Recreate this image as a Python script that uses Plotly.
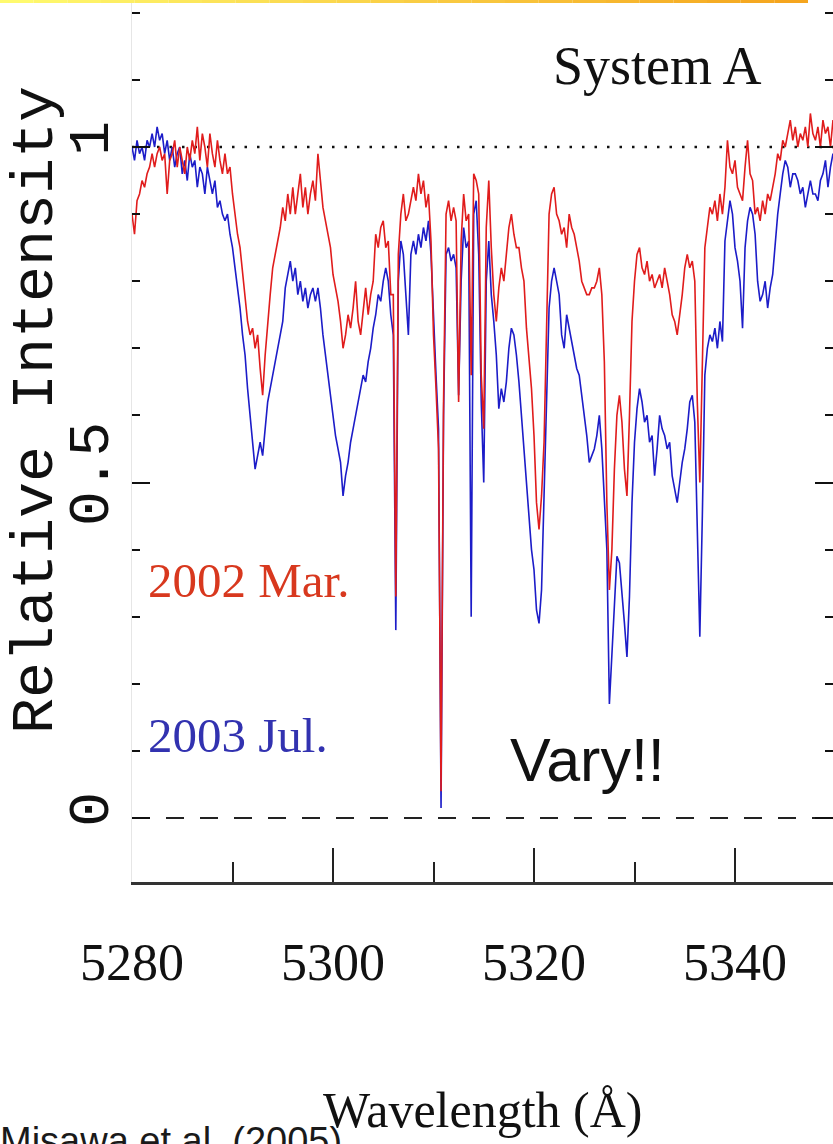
import plotly.graph_objects as go

# ---------------- data ----------------
wavelength = [round(5280 + 0.25 * i, 2) for i in range(281)]

flux_2003_jul = [
    1.00, 0.98, 1.01, 0.99, 1.00, 0.98, 1.01, 1.00,
    1.02, 1.00, 1.03, 1.01, 1.02, 0.99, 1.01, 0.98,
    1.00, 0.97, 0.99, 1.00, 0.96, 0.98, 0.95, 0.99,
    0.97, 0.98, 0.94, 0.97, 0.96, 0.93, 0.97, 0.95,
    0.93, 0.95, 0.91, 0.92, 0.90, 0.89, 0.90, 0.87,
    0.85, 0.82, 0.79, 0.76, 0.72, 0.69, 0.64, 0.60,
    0.55, 0.52, 0.54, 0.56, 0.54, 0.58, 0.62, 0.64,
    0.66, 0.68, 0.70, 0.72, 0.74, 0.79, 0.81, 0.83,
    0.80, 0.82, 0.78, 0.80, 0.77, 0.79, 0.76, 0.78,
    0.79, 0.77, 0.79, 0.76, 0.72, 0.69, 0.66, 0.63,
    0.60, 0.57, 0.55, 0.53, 0.48, 0.51, 0.53, 0.56,
    0.58, 0.60, 0.62, 0.64, 0.66, 0.65, 0.68, 0.70,
    0.73, 0.75, 0.78, 0.77, 0.80, 0.82, 0.80, 0.75,
    0.72, 0.28, 0.80, 0.86, 0.84, 0.78, 0.72, 0.84,
    0.86, 0.84, 0.87, 0.85, 0.88, 0.86, 0.89, 0.84,
    0.74, 0.66, 0.58, 0.015, 0.60, 0.84, 0.85, 0.83,
    0.84, 0.82, 0.63, 0.80, 0.88, 0.85, 0.86, 0.30,
    0.90, 0.92, 0.84, 0.62, 0.50, 0.80, 0.86, 0.78,
    0.74, 0.69, 0.61, 0.64, 0.62, 0.65, 0.70, 0.73,
    0.72, 0.69, 0.65, 0.60, 0.54, 0.49, 0.45, 0.40,
    0.37, 0.31, 0.29, 0.34, 0.48, 0.64, 0.76, 0.80,
    0.82, 0.80, 0.78, 0.72, 0.70, 0.75, 0.73, 0.71,
    0.69, 0.67, 0.66, 0.63, 0.60, 0.57, 0.53, 0.54,
    0.55, 0.57, 0.60, 0.55, 0.48, 0.40, 0.17, 0.24,
    0.33, 0.39, 0.38, 0.34, 0.29, 0.24, 0.33, 0.47,
    0.56, 0.61, 0.64, 0.62, 0.59, 0.60, 0.56, 0.57,
    0.51, 0.55, 0.60, 0.58, 0.57, 0.55, 0.56, 0.51,
    0.49, 0.47, 0.50, 0.53, 0.55, 0.58, 0.62, 0.63,
    0.59, 0.44, 0.27, 0.45, 0.66, 0.70, 0.72, 0.71,
    0.73, 0.70, 0.74, 0.71, 0.86, 0.89, 0.92, 0.90,
    0.85, 0.83, 0.80, 0.73, 0.85, 0.89, 0.91, 0.90,
    0.87, 0.80, 0.77, 0.78, 0.80, 0.76, 0.79, 0.81,
    0.86, 0.90, 0.93, 0.96, 0.98, 0.97, 0.94, 0.96,
    0.96, 0.95, 0.93, 0.94, 0.91, 0.93, 0.95, 0.93,
    0.93, 0.92, 0.95, 0.96, 0.98, 0.94, 0.97, 0.99,
    0.97,
]

flux_2002_mar = [
    0.90, 0.87, 0.92, 0.93, 0.95, 0.94, 0.96, 0.97,
    0.99, 0.97, 0.99, 1.00, 0.98, 0.99, 0.93, 0.98,
    0.99, 1.01, 0.97, 1.00, 0.98, 0.96, 1.00, 0.98,
    1.01, 0.99, 1.03, 0.98, 1.02, 1.00, 0.97, 1.02,
    0.99, 0.97, 1.01, 0.98, 0.96, 0.99, 0.96, 0.97,
    0.93, 0.90, 0.87, 0.85, 0.81, 0.77, 0.74, 0.72,
    0.73, 0.70, 0.72, 0.67, 0.63, 0.69, 0.74, 0.78,
    0.82, 0.84, 0.86, 0.88, 0.91, 0.89, 0.93, 0.90,
    0.94, 0.90, 0.93, 0.96, 0.91, 0.94, 0.90, 0.93,
    0.95, 0.92, 0.99, 0.95, 0.91, 0.89, 0.87, 0.85,
    0.81, 0.79, 0.77, 0.74, 0.70, 0.72, 0.75, 0.73,
    0.76, 0.80, 0.74, 0.72, 0.76, 0.79, 0.75, 0.78,
    0.80, 0.87, 0.85, 0.88, 0.89, 0.85, 0.86, 0.78,
    0.78, 0.33, 0.84, 0.90, 0.93, 0.89, 0.90, 0.92,
    0.94, 0.92, 0.96, 0.93, 0.95, 0.91, 0.93, 0.86,
    0.72, 0.64, 0.55, 0.04, 0.62, 0.90, 0.92, 0.89,
    0.91, 0.89, 0.62, 0.86, 0.93, 0.89, 0.90, 0.66,
    0.96, 0.95, 0.93, 0.66, 0.58, 0.88, 0.95, 0.85,
    0.78, 0.74, 0.79, 0.82, 0.80, 0.84, 0.88, 0.90,
    0.87, 0.85, 0.85, 0.82, 0.80, 0.73, 0.68, 0.64,
    0.57, 0.47, 0.43, 0.48, 0.56, 0.74, 0.90, 0.93,
    0.94, 0.90, 0.89, 0.87, 0.88, 0.85, 0.90, 0.88,
    0.87, 0.85, 0.83, 0.80, 0.79, 0.78, 0.78, 0.79,
    0.79, 0.80, 0.82, 0.78, 0.68, 0.47, 0.34, 0.40,
    0.52, 0.60, 0.63, 0.59, 0.52, 0.48, 0.60, 0.74,
    0.80, 0.84, 0.85, 0.82, 0.81, 0.83, 0.80, 0.81,
    0.79, 0.80, 0.81, 0.79, 0.82, 0.80, 0.78, 0.75,
    0.74, 0.72, 0.75, 0.78, 0.82, 0.84, 0.82, 0.83,
    0.80, 0.62, 0.50, 0.70, 0.85, 0.88, 0.91, 0.90,
    0.92, 0.89, 0.93, 0.90, 0.94, 1.01, 0.97, 0.96,
    0.98, 0.94, 0.93, 0.92, 0.97, 1.01, 0.96, 0.95,
    0.90, 0.91, 0.89, 0.92, 0.90, 0.93, 0.92, 0.94,
    0.96, 0.99, 0.98, 1.01, 1.00, 1.02, 1.04, 1.01,
    1.03, 1.00, 1.02, 1.01, 1.03, 1.00, 1.05, 1.02,
    1.01, 1.03, 1.00, 1.04, 1.02, 1.03, 1.00, 1.04,
    1.02,
]

x_tick_values = [5280, 5300, 5320, 5340]
x_tick_labels = ["5280", "5300", "5320", "5340"]
x_minor_values = [5290, 5310, 5330]
y_tick_values = [0, 0.5, 1]
y_tick_labels = ["0", "0.5", "1"]

# ---------------- layout geometry ----------------
W, H = 833, 1144
ML, MR, MT, MB = 132, 0, 0, 262
PW, PH = W - ML - MR, H - MT - MB


def px(xp):
    return (xp - ML) / PW


def py(yp):
    return (MT + PH - yp) / PH


RED = "#e01c1c"
BLUE = "#1c1cc8"

fig = go.Figure()
fig.add_trace(go.Scatter(x=wavelength, y=flux_2003_jul, mode="lines",
                         name="2003 Jul.", line=dict(color=BLUE, width=1.6)))
fig.add_trace(go.Scatter(x=wavelength, y=flux_2002_mar, mode="lines",
                         name="2002 Mar.", line=dict(color=RED, width=1.6)))

shapes = [
    dict(type="line", xref="paper", yref="y", x0=0, x1=1, y0=1, y1=1,
         line=dict(color="#111", width=2.5, dash="2.5px,10px"), layer="below"),
    dict(type="line", xref="paper", yref="y", x0=0, x1=1, y0=0, y1=0,
         line=dict(color="#222", width=2, dash="18px,16px"), layer="below"),
]
# decorative gradient bar at the top of the slide
nseg = 24
x_start, x_end = 0, 808
for i in range(nseg):
    t = i / (nseg - 1)
    r = int(255 + (245 - 255) * t)
    g = int(250 + (165 - 250) * t)
    b = int(110 + (30 - 110) * t)
    xa = x_start + (x_end - x_start) * i / nseg
    xb = x_start + (x_end - x_start) * (i + 1) / nseg
    shapes.append(dict(type="rect", xref="paper", yref="paper",
                       x0=px(xa), x1=px(xb), y0=py(3), y1=py(0),
                       line=dict(width=0), fillcolor=f"rgb({r},{g},{b})"))

annotations = [
    dict(text="System A", x=px(657), y=py(66), xref="paper", yref="paper",
         showarrow=False, xanchor="center", yanchor="middle",
         font=dict(family="Liberation Serif", size=54, color="#111")),
    dict(text="2002 Mar.", x=px(248), y=py(580), xref="paper", yref="paper",
         showarrow=False, xanchor="center", yanchor="middle",
         font=dict(family="Liberation Serif", size=49, color="#d8381e")),
    dict(text="2003 Jul.", x=px(238), y=py(735), xref="paper", yref="paper",
         showarrow=False, xanchor="center", yanchor="middle",
         font=dict(family="Liberation Serif", size=49, color="#3232b0")),
    dict(text="Vary!!", x=px(587), y=py(760), xref="paper", yref="paper",
         showarrow=False, xanchor="center", yanchor="middle",
         font=dict(family="Liberation Sans", size=61, color="#111")),
    dict(text="Wavelength (Å)", x=px(482), y=py(1110), xref="paper", yref="paper",
         showarrow=False, xanchor="center", yanchor="middle",
         font=dict(family="Liberation Serif", size=50, color="#111")),
    dict(text="Relative Intensity", x=px(36), y=py(410), xref="paper", yref="paper",
         showarrow=False, xanchor="center", yanchor="middle", textangle=-90,
         font=dict(family="Liberation Mono", size=60, color="#111")),
    dict(text="Misawa et al. (2005)", x=px(-2), y=py(1118), xref="paper", yref="paper",
         showarrow=False, xanchor="left", yanchor="top",
         font=dict(family="Liberation Sans", size=38, color="#1a1a1a")),
]

fig.update_layout(
    width=W, height=H,
    margin=dict(l=ML, r=MR, t=MT, b=MB, pad=0),
    paper_bgcolor="white", plot_bgcolor="white",
    showlegend=False,
    shapes=shapes,
    annotations=annotations,
    xaxis=dict(
        range=[5280, 5280 + PW / 10.05],
        tickmode="array", tickvals=x_tick_values, ticktext=x_tick_labels,
        ticks="inside", ticklen=34, tickwidth=1.5, tickcolor="#222",
        showline=True, linecolor="#333", linewidth=2.5,
        showgrid=False, zeroline=False,
        tickfont=dict(family="Liberation Serif", size=52, color="#111"),
        ticklabelstandoff=33,
        minor=dict(tickmode="array", tickvals=x_minor_values, ticks="inside",
                   ticklen=20, tickwidth=1.5, tickcolor="#222", showgrid=False),
    ),
    yaxis=dict(
        range=[(818 - 882) / 671, 818 / 671],
        tickmode="array", tickvals=y_tick_values, ticktext=y_tick_labels,
        tickangle=-90,
        ticks="inside", ticklen=18, tickwidth=2, tickcolor="#111",
        mirror="ticks", showline=True, linecolor="#e6e6e6", linewidth=1,
        showgrid=False, zeroline=False,
        tickfont=dict(family="Liberation Mono", size=58, color="#111"),
        ticklabelstandoff=0,
        minor=dict(tick0=0, dtick=0.1, ticks="inside", ticklen=8,
                   tickwidth=2, tickcolor="#111", showgrid=False),
    ),
)

fig.write_html("out.html")
